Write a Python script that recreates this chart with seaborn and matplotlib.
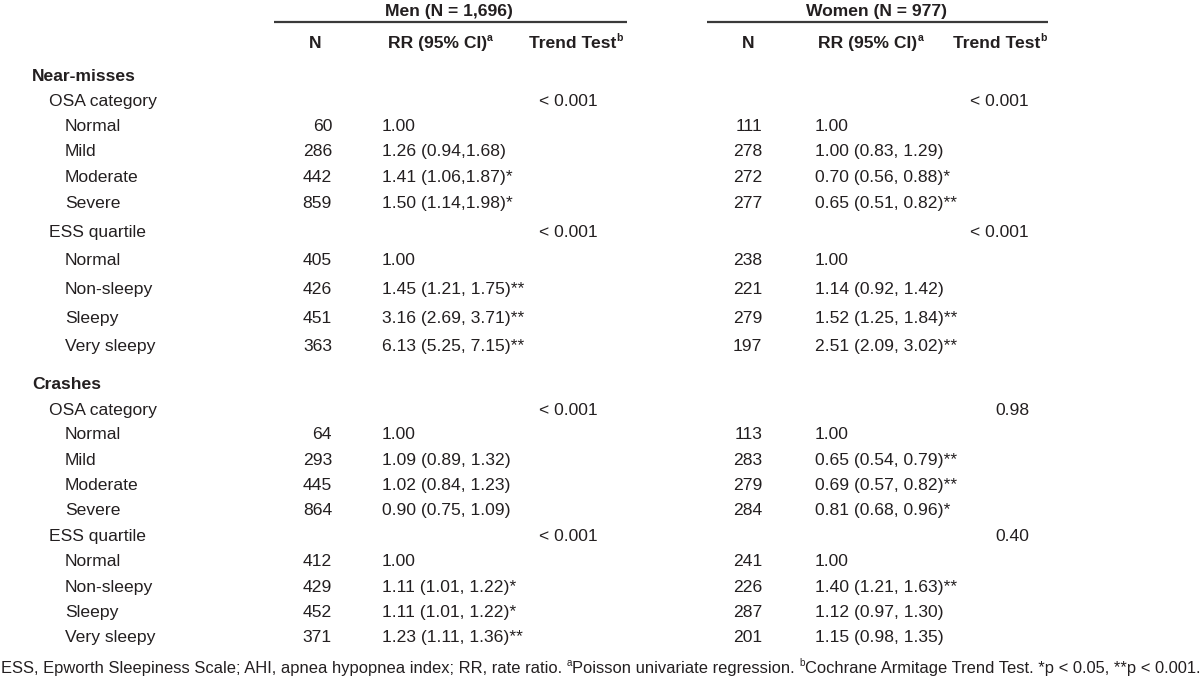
import matplotlib
matplotlib.use("Agg")
import matplotlib.pyplot as plt
import seaborn as sns

sns.set_theme(style="white")
plt.rcParams["font.family"] = ["Liberation Sans Narrow", "Liberation Sans", "DejaVu Sans"]

# --------------------------------------
# table data
# --------------------------------------
row_labels = [
    "Near-misses", "OSA category", "Normal", "Mild", "Moderate", "Severe",
    "ESS quartile", "Normal", "Non-sleepy", "Sleepy", "Very sleepy",
    "Crashes", "OSA category", "Normal", "Mild", "Moderate", "Severe",
    "ESS quartile", "Normal", "Non-sleepy", "Sleepy", "Very sleepy",
]
row_level = [0, 1, 2, 2, 2, 2, 1, 2, 2, 2, 2,
             0, 1, 2, 2, 2, 2, 1, 2, 2, 2, 2]

men_n = ["", "", "60", "286", "442", "859", "", "405", "426", "451", "363",
         "", "", "64", "293", "445", "864", "", "412", "429", "452", "371"]
men_rr = ["", "", "1.00", "1.26 (0.94,1.68)", "1.41 (1.06,1.87)*", "1.50 (1.14,1.98)*",
          "", "1.00", "1.45 (1.21, 1.75)**", "3.16 (2.69, 3.71)**", "6.13 (5.25, 7.15)**",
          "", "", "1.00", "1.09 (0.89, 1.32)", "1.02 (0.84, 1.23)", "0.90 (0.75, 1.09)",
          "", "1.00", "1.11 (1.01, 1.22)*", "1.11 (1.01, 1.22)*", "1.23 (1.11, 1.36)**"]
men_trend = ["", "< 0.001", "", "", "", "", "< 0.001", "", "", "", "",
             "", "< 0.001", "", "", "", "", "< 0.001", "", "", "", ""]

women_n = ["", "", "111", "278", "272", "277", "", "238", "221", "279", "197",
           "", "", "113", "283", "279", "284", "", "241", "226", "287", "201"]
women_rr = ["", "", "1.00", "1.00 (0.83, 1.29)", "0.70 (0.56, 0.88)*", "0.65 (0.51, 0.82)**",
            "", "1.00", "1.14 (0.92, 1.42)", "1.52 (1.25, 1.84)**", "2.51 (2.09, 3.02)**",
            "", "", "1.00", "0.65 (0.54, 0.79)**", "0.69 (0.57, 0.82)**", "0.81 (0.68, 0.96)*",
            "", "1.00", "1.40 (1.21, 1.63)**", "1.12 (0.97, 1.30)", "1.15 (0.98, 1.35)"]
women_trend = ["", "< 0.001", "", "", "", "", "< 0.001", "", "", "", "",
               "", "0.98", "", "", "", "", "0.40", "", "", "", ""]

group_titles = ["Men (N = 1,696)", "Women (N = 977)"]
col_headers = ["N", "RR (95% CI)", "Trend Test"]
col_header_sups = ["", "a", "b"]
footnote_runs = [
    ("ESS, Epworth Sleepiness Scale; AHI, apnea hypopnea index; RR, rate ratio. ", False),
    ("a", True),
    ("Poisson univariate regression. ", False),
    ("b", True),
    ("Cochrane Armitage Trend Test. *p < 0.05, **p < 0.001.", False),
]

# --------------------------------------
# layout (pixels)
# --------------------------------------
row_y = [75, 100, 125, 150, 176, 202, 231, 259, 288, 317, 345,
         383, 409, 433, 459, 484, 509, 535, 560, 586, 611, 636]
indent_x = [32, 49, 65]
FS = 12.6
INK = "#231f20"
BASE = 6  # center -> baseline offset in px

fig = plt.figure(figsize=(12, 6.88), dpi=100)
fig.patch.set_facecolor("white")
ax = fig.add_axes([0, 0, 1, 1])
ax.set_xlim(0, 1200)
ax.set_ylim(688, 0)
ax.axis("off")
renderer = fig.canvas.get_renderer()


def draw_runs(x, y, runs, size, weight="normal", ha="left"):
    """Draw text runs with superscripts; y is baseline in px."""
    arts = []
    total = 0
    for txt, sup in runs:
        fs = size * 0.6 if sup else size
        t = ax.text(0, y, txt, fontsize=fs, fontweight=weight, color=INK,
                    ha="left", va="baseline")
        w = t.get_window_extent(renderer).width
        arts.append((t, w, sup))
        total += w
    start = x - total / 2 if ha == "center" else x
    cur = start
    for t, w, sup in arts:
        dy = -0.42 * size / 0.72 if sup else 0
        t.set_position((cur, y + dy))
        cur += w
    return total, [a[0] for a in arts]


sections = [
    dict(title_x=449, line=(274, 627), n_hdr=315, rr_hdr=440, tr_hdr=576,
         n_x=332, rr_x=382, tr_x=598, n=men_n, rr=men_rr, tr=men_trend),
    dict(title_x=877, line=(707, 1048), n_hdr=748, rr_hdr=871, tr_hdr=1000,
         n_x=762, rr_x=815, tr_x=1029, n=women_n, rr=women_rr, tr=women_trend),
]

for title, s in zip(group_titles, sections):
    draw_runs(s["title_x"], 10 + BASE, [(title, False)], FS, weight="bold", ha="center")
    ax.plot(s["line"], [22, 22], color="#3a3a3a", lw=1.6, solid_capstyle="butt")
    for hdr, sup, hx in zip(col_headers, col_header_sups, [s["n_hdr"], s["rr_hdr"], s["tr_hdr"]]):
        runs = [(hdr, False)] + ([(sup, True)] if sup else [])
        draw_runs(hx, 42 + BASE, runs, FS, weight="bold", ha="center")

    for i, y in enumerate(row_y):
        ax.text(s["n_x"], y + BASE, s["n"][i], fontsize=FS, color=INK, ha="right", va="baseline")
        ax.text(s["rr_x"], y + BASE, s["rr"][i], fontsize=FS, color=INK, ha="left", va="baseline")
        ax.text(s["tr_x"], y + BASE, s["tr"][i], fontsize=FS, color=INK, ha="right", va="baseline")

# row labels
for label, lvl, y in zip(row_labels, row_level, row_y):
    ax.text(indent_x[lvl], y + BASE, label, fontsize=FS, color=INK,
            fontweight="bold" if lvl == 0 else "normal", ha="left", va="baseline")

# footnote, fitted to the figure width
w, tmp = draw_runs(-2000, 667 + BASE, footnote_runs, FS)
for t in tmp:
    t.remove()
draw_runs(1, 667 + BASE, footnote_runs, FS * 1195 / w)

plt.savefig("out.png", dpi=100, facecolor="white")
plt.close()
